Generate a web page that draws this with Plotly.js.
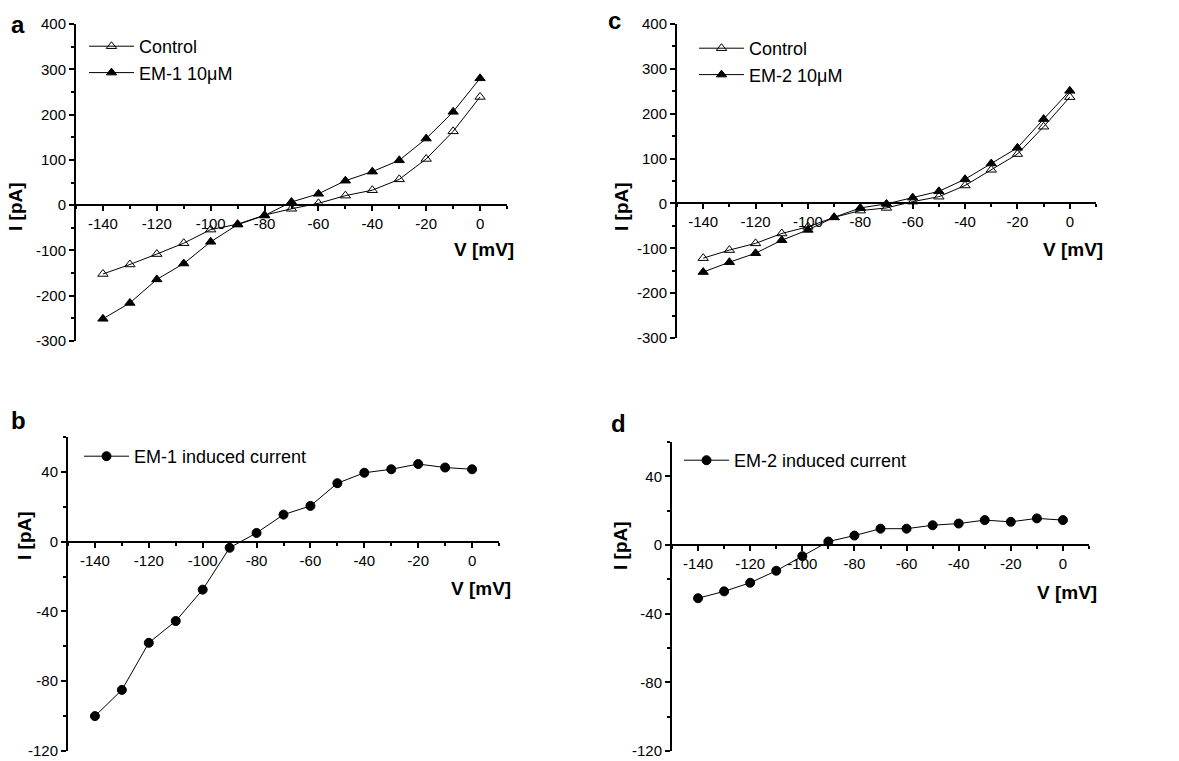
<!DOCTYPE html>
<html>
<head>
<meta charset="utf-8">
<script src="https://cdn.plot.ly/plotly-3.0.1.min.js"></script>
<style>html,body{margin:0;padding:0;background:#fff;}#chart{width:1179px;height:761px;}</style>
</head>
<body>
<div id="chart"></div>
<script>
// ---- data ----
const voltage = [-140,-130,-120,-110,-100,-90,-80,-70,-60,-50,-40,-30,-20,-10,0];
const controlA = [-152,-131,-108,-84,-54,-42,-22,-8,4,21,33,57,102,163,239];
const em1 = [-251,-216,-164,-129,-81,-43,-23,7,25,54,74,99,147,206,280];
const controlC = [-122,-104,-89,-67,-52,-31,-16,-10,4,15,40,75,110,171,237];
const em2 = [-153,-131,-111,-82,-59,-31,-10,-1,13,27,54,89,124,188,251];
const em1Induced = [-100,-85,-58,-45.5,-27.5,-3.5,5,15.5,20.5,33.5,39.5,41.5,44.5,42.5,41.5];
const em2Induced = [-31,-27,-22,-15,-6.5,2,5.5,9.5,9.5,11.5,12.5,14.5,13.5,15.5,14.5];

const namesA = ['Control', 'EM-1 10\u03bcM'];
const namesC = ['Control', 'EM-2 10\u03bcM'];
const nameB = 'EM-1 induced current';
const nameD = 'EM-2 induced current';
const panelLetters = ['a','b','c','d'];

// tick labels (ASCII hyphen as in the reference)
const xTickVals = [-140,-120,-100,-80,-60,-40,-20,0];
const xTickText = ['-140','-120','-100','-80','-60','-40','-20','0'];
const yTickValsAC = [-300,-200,-100,0,100,200,300,400];
const yTickTextAC = ['-300','-200','-100','0','100','200','300','400'];
const yTickValsBD = [-120,-80,-40,0,40];
const yTickTextBD = ['-120','-80','-40','0','40'];

// ---- layout helpers ----
const W = 1179, H = 761;
const FONT = 'Arial, "Liberation Sans", Helvetica, sans-serif';
const fx = p => p / W;
const fy = p => 1 - p / H;

const panels = [
  {xd:[76,507],  yd:[24,341],  yr:[-300,400], tv:yTickValsAC, tt:yTickTextAC, mdt:50, letter:[18,25],  ylab:[16,207],  vlab:[484,250], leg:[84,28]},
  {xd:[68,499],  yd:[437,751], yr:[-120,60],  tv:yTickValsBD, tt:yTickTextBD, mdt:20, letter:[18,420], ylab:[24,536],  vlab:[481,588], leg:[79,438]},
  {xd:[677,1096],yd:[24,338],  yr:[-300,400], tv:yTickValsAC, tt:yTickTextAC, mdt:50, letter:[614,21], ylab:[622,207], vlab:[1073,250],leg:[694,30]},
  {xd:[672,1089],yd:[442,751], yr:[-120,60],  tv:yTickValsBD, tt:yTickTextBD, mdt:20, letter:[618,423],ylab:[620,546], vlab:[1067,592],leg:[679,442]}
];

const layout = {
  width: W, height: H,
  margin: {l:0, r:0, t:0, b:0},
  paper_bgcolor: '#fff', plot_bgcolor: 'rgba(0,0,0,0)',
  font: {family: FONT, color: '#000', size: 15},
  showlegend: true,
  annotations: []
};

panels.forEach((p, i) => {
  const n = i === 0 ? '' : String(i + 1);
  const zeroPx = p.yd[0] + (p.yr[1] - 0) / (p.yr[1] - p.yr[0]) * (p.yd[1] - p.yd[0]);
  layout['xaxis' + n] = {
    domain: [fx(p.xd[0]), fx(p.xd[1])],
    range: [-150, 10],
    anchor: 'free',
    position: fy(zeroPx),
    showline: true, linewidth: 2, linecolor: '#000',
    ticks: 'outside', ticklen: 5, tickwidth: 1.5, tickcolor: '#000',
    tickmode: 'array', tickvals: xTickVals, ticktext: xTickText,
    minor: {tickmode: 'linear', tick0: 0, dtick: 10, ticks: 'outside', ticklen: 3, tickwidth: 1.5, tickcolor: '#000', showgrid: false},
    showgrid: false, zeroline: false,
    tickfont: {size: 15, family: FONT, color: '#000'},
    ticklabeloverflow: 'allow',
    fixedrange: true
  };
  layout['yaxis' + n] = {
    domain: [fy(p.yd[1]), fy(p.yd[0])],
    range: p.yr,
    anchor: 'x' + n,
    showline: true, linewidth: 2, linecolor: '#000',
    ticks: 'outside', ticklen: 5, tickwidth: 1.5, tickcolor: '#000',
    tickmode: 'array', tickvals: p.tv, ticktext: p.tt,
    minor: {tickmode: 'linear', tick0: 0, dtick: p.mdt, ticks: 'outside', ticklen: 3, tickwidth: 1.5, tickcolor: '#000', showgrid: false},
    showgrid: false, zeroline: false,
    tickfont: {size: 15, family: FONT, color: '#000'},
    ticklabeloverflow: 'allow',
    fixedrange: true
  };
  layout['legend' + (i === 0 ? '' : (i + 1))] = {
    x: fx(p.leg[0]), y: fy(p.leg[1]), xanchor: 'left', yanchor: 'top',
    bgcolor: 'rgba(0,0,0,0)', borderwidth: 0,
    font: {size: 18, family: FONT, color: '#000'},
    itemwidth: 45, tracegroupgap: 0
  };
  layout.annotations.push(
    {text: panelLetters[i], xref:'paper', yref:'paper', x: fx(p.letter[0]), y: fy(p.letter[1]),
     xanchor:'center', yanchor:'middle', showarrow:false, font:{size:24, family:FONT, weight:'bold', color:'#000'}},
    {text: 'I [pA]', xref:'paper', yref:'paper', x: fx(p.ylab[0]), y: fy(p.ylab[1]), textangle: -90,
     xanchor:'center', yanchor:'middle', showarrow:false, font:{size:19, family:FONT, weight:'bold', color:'#000'}},
    {text: 'V [mV]', xref:'paper', yref:'paper', x: fx(p.vlab[0]), y: fy(p.vlab[1]),
     xanchor:'center', yanchor:'middle', showarrow:false, font:{size:19, family:FONT, weight:'bold', color:'#000'}}
  );
});

function series(y, name, symbol, axisN, legendId) {
  return {
    x: voltage, y: y, name: name, type: 'scatter', mode: 'lines+markers',
    xaxis: 'x' + axisN, yaxis: 'y' + axisN, legend: legendId,
    line: {color: '#000', width: 1},
    marker: {symbol: symbol, size: 9, color: '#000', line: {color: '#000', width: 1}},
    hoverinfo: 'x+y'
  };
}

const data = [
  series(controlA, namesA[0], 'triangle-up-open', '', 'legend'),
  series(em1, namesA[1], 'triangle-up', '', 'legend'),
  series(em1Induced, nameB, 'circle', '2', 'legend2'),
  series(controlC, namesC[0], 'triangle-up-open', '3', 'legend3'),
  series(em2, namesC[1], 'triangle-up', '3', 'legend3'),
  series(em2Induced, nameD, 'circle', '4', 'legend4')
];

Plotly.newPlot('chart', data, layout, {displayModeBar: false, responsive: false});
</script>
</body>
</html>
